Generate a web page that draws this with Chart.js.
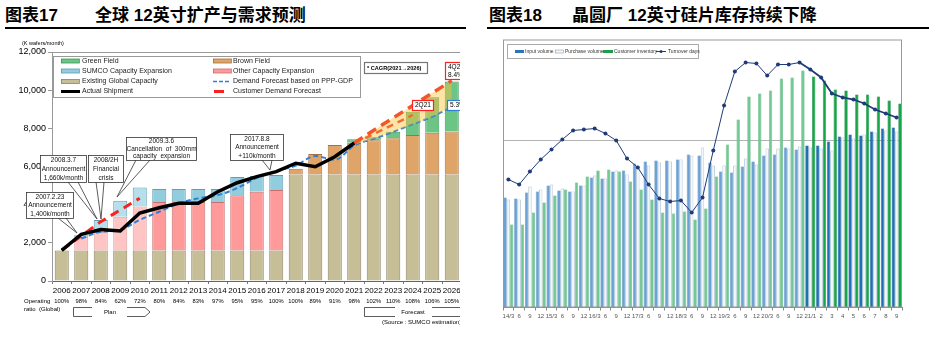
<!DOCTYPE html>
<html>
<head>
<meta charset="utf-8">
<script src="https://cdn.jsdelivr.net/npm/chart.js@4.4.0/dist/chart.umd.min.js"></script>
<style>
body{margin:0;background:#fff;width:929px;height:338px;overflow:hidden;position:relative;font-family:"Liberation Sans",Arial,sans-serif}
.t{position:absolute;top:6px;font:bold 17px "Liberation Sans","Noto Sans CJK SC",sans-serif;color:#000;white-space:nowrap;line-height:20px}
.rule{position:absolute;top:27px;height:2px;background:#000}
#wrapL{position:absolute;left:0;top:0;width:460px;height:338px;overflow:hidden}
#cL{position:absolute;left:0;top:0}
#cR{position:absolute;left:480px;top:0}
</style>
</head>
<body>
<div class="t" style="left:5px">图表17</div>
<div class="t" style="left:95px">全球 12英寸扩产与需求预测</div>
<div class="rule" style="left:5px;width:461px"></div>
<div class="t" style="left:489px">图表18</div>
<div class="t" style="left:572px">晶圆厂 12英寸硅片库存持续下降</div>
<div class="rule" style="left:487px;width:442px"></div>

<div id="wrapL"><canvas id="cL" width="470" height="338"></canvas></div>
<canvas id="cR" width="449" height="338"></canvas>

<script>
Chart.defaults.font.family = '"Liberation Sans", Arial, sans-serif';
Chart.defaults.color = '#000';

// ---- left chart: global 300mm capacity vs demand (K wafers/month)
const years = ['2006','2007','2008','2009','2010','2011','2012','2013','2014','2015','2016','2017','2018','2019','2020','2021','2022','2023','2024','2025','2026'];
const existingCap = [1600,1600,1600,1600,1600,1600,1600,1600,1600,1600,1600,1600,5580,5580,5580,5580,5580,5580,5580,5580,5580];
const otherCap = [null,700,970,1770,2300,2540,2540,2540,2540,2900,3080,3170,null,null,null,null,null,null,null,null,null];
const brownField = [null,null,null,null,null,null,null,null,null,null,null,null,300,1080,1550,1670,1800,1900,2070,2190,2250];
const sumcoCap = [null,100,630,830,1000,680,680,680,680,950,820,790,null,null,null,null,null,null,null,null,null];
const greenField = [null,null,null,null,null,null,null,null,null,null,null,null,null,null,null,180,150,340,1220,1860,2620];
const shipment = [1600,2450,2700,2620,3560,3840,4070,4070,4680,5150,5470,5730,6170,5990,6510,7230,null,null,null,null,null];
const demandPPP = [null,2230,2580,2680,3200,3630,4070,4330,4500,4870,5400,5750,6050,6550,6350,7100,7450,7820,8220,8610,9140];
const custEarly = [1620,2360,3110,3720,4340,null,null,null,null,null,null,null,null,null,null,null,null,null,null,null,null];
const cust4Q = [null,null,null,null,null,null,null,null,null,null,null,null,null,null,null,7230,7900,8550,9200,9850,10500];
const cust2Q = [null,null,null,null,null,null,null,null,null,null,null,null,null,null,null,7230,7700,8200,8700,null,null];
const opRatio = ['100%','98%','84%','62%','72%','80%','84%','83%','97%','95%','95%','100%','100%','89%','91%','98%','102%','110%','108%','106%','105%'];
const planYears = ['2007','2008','2009','2010'];

// ---- right chart: fab 300mm wafer inventory
const periods = ['14/3','6','9','12','15/3','6','9','12','16/3','6','9','12','17/3','6','9','12','18/3','6','9','12','19/3','6','9','12','20/3','6','9','12','21/1','2','3','4','5','6','7','8','9'];
const inputVol = [110,109,115,116,122,117,116,122,130,129,136,137,144,146,147,147,148,153,152,145,136,135,141,146,152,153,160,158,162,162,166,171,173,172,176,179,180];
const purchaseVol = [108,108,121,118,123,119,116,122,132,129,137,133,142,142,145,146,148,152,160,142,142,142,149,143,159,159,159,161,160,159,157,170,169,173,175,177,176];
const custInv = [83,83,95,105,112,118,125,131,137,138,136,126,118,108,95,94,96,88,99,131,163,188,211,214,217,229,230,237,231,227,218,217,213,213,211,207,204];
const turnoverDays = [128,123,136,148,158,168,177,178,179,174,167,149,140,123,109,106,107,95,110,157,202,236,245,244,232,243,243,245,238,230,214,210,208,204,198,194,190];
const refLevel = 167.5;
const monthlyStart = periods.indexOf('21/1');

const isPlan = i => planYears.includes(years[i]);

function callout(ctx, c) {
  ctx.strokeStyle = '#333';
  ctx.lineWidth = 0.8;
  ctx.beginPath();
  ctx.moveTo(c.ptr[0][0], c.ptr[0][1]); ctx.lineTo(c.ptr[2][0], c.ptr[2][1]);
  ctx.moveTo(c.ptr[1][0], c.ptr[1][1]); ctx.lineTo(c.ptr[2][0], c.ptr[2][1]);
  ctx.stroke();
  ctx.fillStyle = '#fff';
  ctx.fillRect(c.x, c.y, c.w, c.h);
  ctx.strokeRect(c.x + 0.5, c.y + 0.5, c.w, c.h);
  ctx.fillStyle = '#111';
  ctx.font = '6.5px "Liberation Sans"';
  ctx.textAlign = 'center';
  ctx.textBaseline = 'middle';
  const step = c.h / c.lines.length;
  c.lines.forEach((l, i) => ctx.fillText(l, c.x + c.w / 2 + 0.5, c.y + step * (i + 0.5) + 0.5));
}

const callouts = [
  {x:26, y:192, w:47, h:26, lines:['2007.2.23','Announcement','1,400k/month'], ptr:[[58,218],[66,218],[77,233]]},
  {x:40, y:155, w:46, h:27, lines:['2008.3.7','Announcement','1,660k/month'], ptr:[[68,182],[78,182],[97,219]]},
  {x:88, y:155, w:35, h:27, lines:['2008/2H','Financial','crisis'], ptr:[[96,182],[104,182],[101,219]]},
  {x:126, y:137, w:70, h:23, lines:['2009.3.6','Cancellation  of  300mm','capacity  expansion'], ptr:[[136,160],[150,160],[117,197]]},
  {x:230, y:134, w:53, h:26, lines:['2017.8.8','Announcement','+110k/month'], ptr:[[262,160],[272,160],[270,170]]}
];

function tagBox(ctx, x, y, w, h, color, lines, bold, size) {
  ctx.fillStyle = '#fff';
  ctx.fillRect(x, y, w, h);
  ctx.strokeStyle = color;
  ctx.lineWidth = 1.2;
  ctx.strokeRect(x + 0.5, y + 0.5, w, h);
  ctx.fillStyle = '#000';
  ctx.font = (bold ? 'bold ' : '') + (size || 6.5) + 'px "Liberation Sans"';
  ctx.textAlign = 'left';
  ctx.textBaseline = 'middle';
  const step = h / lines.length;
  lines.forEach((l, i) => ctx.fillText(l, x + 3, y + step * (i + 0.5) + 0.5));
}

const leftDecor = {
  id: 'leftDecor',
  afterDraw(chart) {
    const {ctx, chartArea: a, scales: {x}} = chart;
    ctx.save();
    ctx.strokeStyle = '#999';
    ctx.lineWidth = 1;
    ctx.beginPath(); ctx.moveTo(a.left, a.top + 0.5); ctx.lineTo(a.right, a.top + 0.5); ctx.stroke();

    ctx.fillStyle = '#000';
    ctx.textBaseline = 'middle';
    ctx.textAlign = 'left';
    ctx.font = '5.5px "Liberation Sans"';
    ctx.fillText('(K wafers/month)', 22, 43);

    ctx.font = '6px "Liberation Sans"';
    ctx.fillText('Operating', 24, 301);
    ctx.fillText('ratio  (Global)', 24, 309);
    ctx.font = '5.8px "Liberation Sans"';
    ctx.textAlign = 'center';
    opRatio.forEach((r, i) => ctx.fillText(r, x.getPixelForValue(i), 301));

    // plan / forecast brackets
    ctx.strokeStyle = '#333';
    ctx.lineWidth = 0.8;
    ctx.beginPath();
    ctx.moveTo(92, 307.5); ctx.lineTo(73.5, 307.5); ctx.lineTo(73.5, 316.5); ctx.lineTo(92, 316.5);
    ctx.moveTo(127, 307.5); ctx.lineTo(145, 307.5); ctx.lineTo(150, 312); ctx.lineTo(145, 316.5); ctx.lineTo(127, 316.5);
    ctx.moveTo(395, 307.5); ctx.lineTo(364.5, 307.5); ctx.lineTo(364.5, 316.5); ctx.lineTo(395, 316.5);
    ctx.moveTo(432, 307.5); ctx.lineTo(470, 307.5); ctx.moveTo(432, 316.5); ctx.lineTo(470, 316.5);
    ctx.stroke();
    ctx.font = '6px "Liberation Sans"';
    ctx.fillText('Plan', 110, 312);
    ctx.fillText('Forecast', 413, 312);
    ctx.textAlign = 'left';
    ctx.fillText('(Source : SUMCO estimation)', 382, 322);

    callouts.forEach(c => callout(ctx, c));

    // legend
    ctx.fillStyle = '#fff';
    ctx.fillRect(53, 56, 307, 41);
    ctx.strokeStyle = '#999';
    ctx.lineWidth = 1;
    ctx.strokeRect(53.5, 56.5, 307, 41);
    const rows = [61, 71, 81.5, 91.5];
    const sw = (x0, yy, fill, stroke) => {
      ctx.fillStyle = fill; ctx.fillRect(x0, yy - 2, 18, 4);
      ctx.strokeStyle = stroke; ctx.lineWidth = 0.8; ctx.strokeRect(x0 + 0.5, yy - 2, 18, 4);
    };
    sw(61, rows[0], '#6cc485', '#3f9a5a');
    sw(61, rows[1], '#92cddd', '#5f9fb3');
    sw(61, rows[2], '#c5be97', '#8c8360');
    ctx.strokeStyle = '#000'; ctx.lineWidth = 3;
    ctx.beginPath(); ctx.moveTo(61, rows[3]); ctx.lineTo(80, rows[3]); ctx.stroke();
    sw(213, rows[0], '#dea468', '#a8713c');
    sw(213, rows[1], '#ff9a9a', '#c77070');
    ctx.strokeStyle = '#2f7fd6'; ctx.lineWidth = 1.5; ctx.setLineDash([4, 2]);
    ctx.beginPath(); ctx.moveTo(213, rows[2]); ctx.lineTo(231, rows[2]); ctx.stroke();
    ctx.setLineDash([]);
    ctx.strokeStyle = '#ff1f1f'; ctx.lineWidth = 3;
    ctx.beginPath(); ctx.moveTo(214, rows[3]); ctx.lineTo(224, rows[3]); ctx.stroke();
    ctx.fillStyle = '#222';
    ctx.font = '7px "Liberation Sans"';
    ctx.textAlign = 'left';
    ['Green Field','SUMCO Capacity Expansion','Existing Global Capacity','Actual Shipment'].forEach((t, i) => ctx.fillText(t, 82, rows[i]));
    ['Brown Field','Other Capacity Expansion','Demand Forecast based on PPP-GDP','Customer Demand Forecast'].forEach((t, i) => ctx.fillText(t, 233, rows[i]));

    tagBox(ctx, 364, 62, 63, 11, '#777', ['* CAGR(2021\u21922026)'], true, 5.6);
    tagBox(ctx, 445, 62, 30, 17, '#ff2020', ['4Q21', '8.4%'], false);
    tagBox(ctx, 412, 100, 21, 10, '#ff2020', ['2Q21'], false);
    tagBox(ctx, 447, 100, 28, 10, '#2f7fd6', ['5.3%'], false);
    ctx.restore();
  }
};

new Chart(document.getElementById('cL'), {
  type: 'bar',
  data: {
    labels: years,
    datasets: [
      {type:'line', label:'Actual Shipment', data:shipment, borderColor:'#000', borderWidth:3.5, pointRadius:0, stack:'s1', fill:false},
      {type:'line', label:'Customer Demand Forecast', data:custEarly, borderColor:'#ff1f1f', borderWidth:3, borderDash:[9,6], pointRadius:0, stack:'s2', fill:false},
      {type:'line', label:'4Q21', data:cust4Q, borderColor:'#f4562a', borderWidth:3.5, borderDash:[10,6], pointRadius:0, stack:'s3',
        fill:{target:4, above:'rgba(255,196,60,0.45)', below:'rgba(255,196,60,0.45)'}},
      {type:'line', label:'2Q21', data:cust2Q, borderColor:'#e8262b', borderWidth:2.5, borderDash:[7,5], pointRadius:0, stack:'s4', fill:false},
      {type:'line', label:'Demand Forecast based on PPP-GDP', data:demandPPP, borderColor:'#2f7fd6', borderWidth:2, borderDash:[5,3], pointRadius:0,
        cubicInterpolationMode:'monotone', stack:'s5', fill:false},
      {label:'Existing Global Capacity', data:existingCap, backgroundColor:'#c5be97', borderColor:'#8c8360', borderWidth:1, stack:'cap'},
      {label:'Other Capacity Expansion', data:otherCap, backgroundColor:c => isPlan(c.dataIndex) ? '#ffc4c4' : '#ff9a9a',
        borderColor:c => isPlan(c.dataIndex) ? '#d8a0a0' : '#c77070', borderWidth:1, stack:'cap'},
      {label:'Brown Field', data:brownField, backgroundColor:'#dea468', borderColor:'#a8713c', borderWidth:1, stack:'cap'},
      {label:'SUMCO Capacity Expansion', data:sumcoCap, backgroundColor:c => isPlan(c.dataIndex) ? '#b5dfea' : '#92cddd',
        borderColor:'#5f9fb3', borderWidth:1, stack:'cap'},
      {label:'Green Field', data:greenField, backgroundColor:'#6cc485', borderColor:'#3f9a5a', borderWidth:1, stack:'cap'}
    ]
  },
  options: {
    responsive:false, animation:false, devicePixelRatio:1,
    layout:{padding:{left:0, top:52, right:8.5, bottom:0}},
    datasets:{bar:{barPercentage:0.72, categoryPercentage:1}},
    plugins:{legend:{display:false}, tooltip:{enabled:false}},
    scales:{
      x:{stacked:true, afterFit(s){ s.height = 57; },
        grid:{drawOnChartArea:false, tickLength:3, color:'#777'}, border:{color:'#666'},
        ticks:{font:{size:8}, color:'#000', padding:2, autoSkip:false, maxRotation:0}},
      y:{stacked:true, min:0, max:12000, afterFit(s){ s.width = 52; },
        grid:{drawOnChartArea:false, tickLength:4, color:'#999'}, border:{color:'#999'},
        ticks:{stepSize:2000, font:{size:9}, color:'#000', padding:2, callback:v => v.toLocaleString('en-US')}}
    }
  },
  plugins:[leftDecor]
});

const rightDecor = {
  id: 'rightDecor',
  beforeDatasetsDraw(chart) {
    const {ctx, chartArea: a, scales: {y}} = chart;
    const py = Math.round(y.getPixelForValue(refLevel)) + 0.5;
    ctx.save();
    ctx.strokeStyle = '#b4b4b4'; ctx.lineWidth = 1;
    ctx.beginPath(); ctx.moveTo(a.left, py); ctx.lineTo(a.right, py); ctx.stroke();
    ctx.restore();
  },
  afterDraw(chart) {
    const {ctx, chartArea: a} = chart;
    ctx.save();
    ctx.strokeStyle = '#999'; ctx.lineWidth = 1;
    ctx.strokeRect(a.left + 0.5, a.top + 0.5, a.width - 1, a.height - 1);
    // legend
    ctx.fillStyle = '#fff';
    ctx.fillRect(27, 44, 191, 14);
    ctx.strokeStyle = '#aaa';
    ctx.strokeRect(27.5, 44.5, 191, 14);
    const ly = 51.5;
    ctx.fillStyle = '#2e72b8'; ctx.fillRect(35, ly - 1.5, 9, 3);
    ctx.fillStyle = '#f2f7fa'; ctx.fillRect(75, ly - 1.5, 8, 3);
    ctx.strokeStyle = '#8aa0b0'; ctx.lineWidth = 0.6; ctx.strokeRect(75.5, ly - 1.5, 8, 3);
    ctx.fillStyle = '#1aa04a'; ctx.fillRect(123, ly - 1.5, 10, 3);
    ctx.strokeStyle = '#1f3b78'; ctx.lineWidth = 1;
    ctx.beginPath(); ctx.moveTo(176, ly); ctx.lineTo(186, ly); ctx.stroke();
    ctx.fillStyle = '#1f3b78';
    ctx.beginPath(); ctx.arc(181, ly, 1.5, 0, Math.PI * 2); ctx.fill();
    ctx.fillStyle = '#333';
    ctx.font = '5px "Liberation Sans"';
    ctx.textAlign = 'left'; ctx.textBaseline = 'middle';
    ctx.fillText('Input volume', 45, ly);
    ctx.fillText('Purchase volume', 85, ly);
    ctx.fillText('Customer inventory', 134, ly);
    ctx.fillText('Turnover days', 188, ly);
    ctx.restore();
  }
};

const late = c => c.dataIndex >= monthlyStart;

new Chart(document.getElementById('cR'), {
  type: 'bar',
  data: {
    labels: periods,
    datasets: [
      {type:'line', label:'Turnover days', data:turnoverDays, borderColor:'#1f3b78', borderWidth:1,
        segment:{borderWidth:s => s.p0DataIndex >= monthlyStart - 1 ? 1.8 : 1},
        pointRadius:2, pointBackgroundColor:'#1f3b78', pointBorderWidth:0, tension:0},
      {label:'Input volume', data:inputVol, backgroundColor:c => late(c) ? '#1f6fb8' : '#6ba1d5',
        borderColor:c => late(c) ? '#175a99' : '#4f86bd', borderWidth:0.6},
      {label:'Purchase volume', data:purchaseVol, backgroundColor:'#f2f7fa', borderColor:'#a8bccb', borderWidth:0.8},
      {label:'Customer inventory', data:custInv, backgroundColor:c => late(c) ? '#16a548' : '#72c892',
        borderColor:c => late(c) ? '#10893a' : '#55b078', borderWidth:0.6}
    ]
  },
  options: {
    responsive:false, animation:false, devicePixelRatio:1,
    layout:{padding:{left:23, top:39.5, right:27, bottom:0}},
    datasets:{bar:{barPercentage:1, categoryPercentage:0.93}},
    plugins:{legend:{display:false}, tooltip:{enabled:false}},
    scales:{
      x:{afterFit(s){ s.height = 30.5; },
        grid:{drawOnChartArea:false, tickLength:3, color:'#888'}, border:{color:'#888'},
        ticks:{font:{size:6}, color:'#555', padding:2, autoSkip:false, maxRotation:0}},
      y:{display:false, min:0, max:268}
    }
  },
  plugins:[rightDecor]
});
</script>
</body>
</html>
